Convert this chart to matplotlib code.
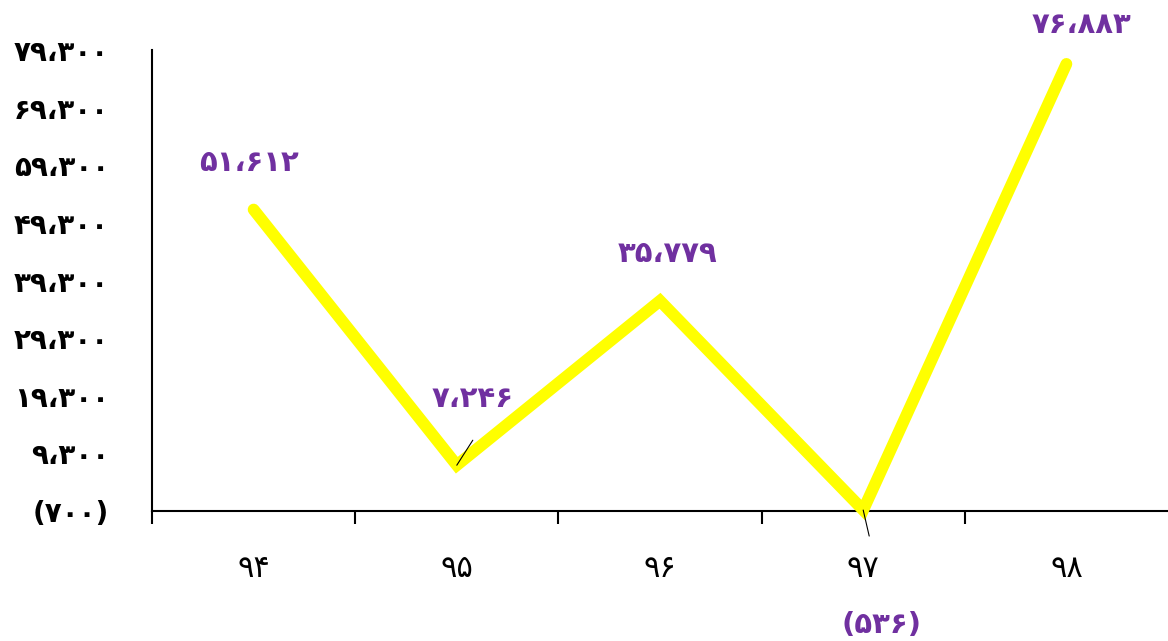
import matplotlib
matplotlib.use("Agg")
import matplotlib.pyplot as plt
from matplotlib.ticker import FixedLocator

# ---- data ----
categories = ["۹۴", "۹۵", "۹۶", "۹۷", "۹۸"]
values = [51612, 7246, 35779, -536, 76883]
value_labels = ["۵۱،۶۱۲", "۷،۲۴۶", "۳۵،۷۷۹", "(۵۳۶)", "۷۶،۸۸۳"]
y_ticks = [-700, 9300, 19300, 29300, 39300, 49300, 59300, 69300, 79300]
y_tick_labels = ["(۷۰۰)", "۹،۳۰۰", "۱۹،۳۰۰", "۲۹،۳۰۰", "۳۹،۳۰۰",
                 "۴۹،۳۰۰", "۵۹،۳۰۰", "۶۹،۳۰۰", "۷۹،۳۰۰"]

W, H = 1168, 641
fig = plt.figure(figsize=(W / 100, H / 100), dpi=100)
left, right, top, bottom = 152, 1168, 50, 511
ax = fig.add_axes([left / W, (H - bottom) / H, (right - left) / W, (bottom - top) / H])

x = list(range(len(categories)))
ax.plot(x, values, color="#FFFF00", lw=8.5, solid_capstyle="round",
        solid_joinstyle="miter", zorder=3, clip_on=False)

ax.set_xlim(-0.5, len(categories) - 0.5)
ax.set_ylim(y_ticks[0], y_ticks[-1])

ax.set_yticks(y_ticks)
ax.set_yticklabels(y_tick_labels)
ax.tick_params(axis="y", length=0, pad=31, labelsize=20)
for t in ax.get_yticklabels():
    t.set_fontweight("bold")

ax.set_xticks(x)
ax.set_xticklabels(categories)
ax.tick_params(axis="x", which="major", length=0, pad=31, labelsize=22)
ax.xaxis.set_minor_locator(FixedLocator([i - 0.5 for i in range(len(categories))]))
ax.tick_params(axis="x", which="minor", length=9.5, width=1.5, direction="out")

for s in ["top", "right"]:
    ax.spines[s].set_visible(False)
for s in ["left", "bottom"]:
    ax.spines[s].set_linewidth(1.5)
    ax.spines[s].set_color("black")
ax.spines["bottom"].set_position(("data", y_ticks[0]))

purple = "#7030A0"
offsets = [(-5, 47), (16, 66), (8, 47), (18, -115), (15, 39)]
for xi, v, lab, off in zip(x, values, value_labels, offsets):
    ax.annotate(lab, (xi, v), xytext=off, textcoords="offset pixels",
                ha="center", va="center", color=purple, fontsize=21,
                fontweight="bold", zorder=5, annotation_clip=False)
# leader lines
ax.annotate("", (1, values[1]), xytext=(16, 25), textcoords="offset pixels",
            arrowprops=dict(arrowstyle="-", color="black", lw=0.8,
                            shrinkA=0, shrinkB=0), zorder=4)
ax.annotate("", (3, values[3]), xytext=(6, -26), textcoords="offset pixels",
            arrowprops=dict(arrowstyle="-", color="black", lw=0.8,
                            shrinkA=0, shrinkB=0), zorder=4,
            annotation_clip=False)

fig.savefig("out.png", dpi=100)
